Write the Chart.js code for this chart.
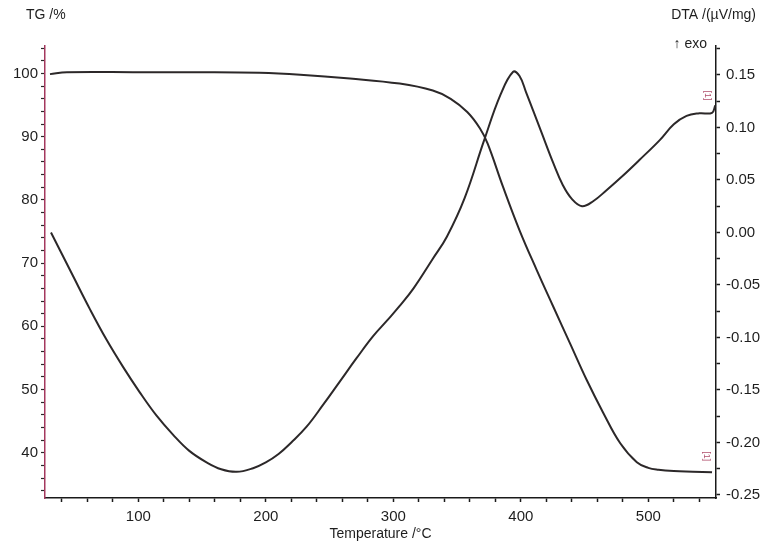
<!DOCTYPE html>
<html>
<head>
<meta charset="utf-8">
<title>TG / DTA</title>
<script src="https://cdn.jsdelivr.net/npm/chart.js@4/dist/chart.umd.min.js"></script>
<style>
    body { margin: 0; background: #ffffff; }
    #chart_area { width: 765px; height: 553px; }
</style>
</head>
<body>
<div id="chart_area"><canvas id="tg_dta" width="765" height="553"></canvas></div>
<script>
// Thermogravimetric curve: temperature (°C) and remaining mass (%)
const tgTemperature = [30.7, 44, 100, 150, 195, 227, 266, 305, 331, 345, 358, 368, 374,
    386, 399, 412.5, 425.5, 438.6, 451.7, 464.7, 478, 491, 500, 508, 520, 535, 550];
const tgValues = [99.9, 100.2, 100.2, 100.2, 100.1, 99.8, 99.2, 98.4, 97.3, 96.0, 93.9, 91.3, 88.9,
    82.1, 75.2, 68.9, 63.1, 57.3, 51.5, 46.3, 41.5, 38.5, 37.6, 37.3, 37.1, 37.0, 36.9];

// Differential thermal analysis curve: temperature (°C) and signal (µV/mg)
const dtaTemperature = [31.5, 49, 62, 75, 88, 101, 114, 127.5, 140, 153.6, 165, 177, 190, 200,
    210, 220, 232, 245, 258, 271, 284, 295, 305, 316, 331, 342, 356, 371, 384, 394, 399, 404,
    410, 416, 425.5, 433, 440, 448, 457, 467, 480, 493, 509, 520, 530, 540, 550, 552.5];
const dtaValues = [0.000, -0.042, -0.073, -0.102, -0.128, -0.152, -0.174, -0.193, -0.208, -0.219,
    -0.2255, -0.228, -0.2245, -0.219, -0.211, -0.200, -0.185, -0.164, -0.142, -0.120, -0.099,
    -0.084, -0.070, -0.053, -0.025, -0.004, 0.033, 0.087, 0.131, 0.153, 0.149, 0.134, 0.115,
    0.096, 0.066, 0.045, 0.032, 0.025, 0.030, 0.040, 0.054, 0.069, 0.088, 0.103, 0.111,
    0.1135, 0.114, 0.121];

// Labelled ticks on each axis
const temperatureTicks = [100, 200, 300, 400, 500];
const tgTicks = [40, 50, 60, 70, 80, 90, 100];
const dtaTicks = [-0.25, -0.20, -0.15, -0.10, -0.05, 0.00, 0.05, 0.10, 0.15];

const textColor = "#1e1e1e";
const curveColor = "#2c2829";
const tickFont = { family: "'Liberation Sans', Arial, sans-serif", size: 15 };
const titleFont = { family: "'Liberation Sans', Arial, sans-serif", size: 14 };

/**
 * Turns two parallel arrays into {x, y} points.
 */
function to_points(xs, ys) {
    return xs.map(function (x, i) {
        return { x: x, y: ys[i] };
    });
}

/**
 * Replaces the generated ticks with evenly spaced minor positions.
 */
function minor_ticks(start, stop, step) {
    return function (scale) {
        const list = [];
        const count = Math.round((stop - start) / step);
        for (let i = 0; i <= count; i++) {
            list.push({ value: +(start + i * step).toFixed(4) });
        }
        scale.ticks = list;
    };
}

function is_major(value, majors) {
    return majors.some(function (m) { return Math.abs(m - value) < 1e-6; });
}

// Axis captions and the small run markers at the curve ends
const captionPlugin = {
    id: "captions",
    afterDraw: function (chart) {
        const ctx = chart.ctx;
        const x = chart.scales.x;
        const yTG = chart.scales.yTG;
        const yDTA = chart.scales.yDTA;

        ctx.save();
        ctx.fillStyle = textColor;
        ctx.font = titleFont.size + "px " + titleFont.family;
        ctx.textBaseline = "middle";
        ctx.textAlign = "left";
        ctx.fillText("TG /%", 26, 15);
        ctx.textAlign = "right";
        ctx.fillText("DTA /(\u00b5V/mg)", 756, 15);
        ctx.fillText("\u2191 exo", 707, 44);

        // "[1]" markers next to the last point of each curve
        ctx.fillStyle = "#b0506c";
        ctx.font = "9px 'Liberation Sans', Arial, sans-serif";
        const lastDta = dtaTemperature.length - 1;
        const lastTg = tgTemperature.length - 1;
        const marks = [
            [x.getPixelForValue(dtaTemperature[lastDta]) - 8, yDTA.getPixelForValue(dtaValues[lastDta]) - 10],
            [x.getPixelForValue(tgTemperature[lastTg]) - 6, yTG.getPixelForValue(tgValues[lastTg]) - 16]
        ];
        marks.forEach(function (m) {
            ctx.save();
            ctx.translate(m[0], m[1]);
            ctx.rotate(Math.PI / 2);
            ctx.textAlign = "center";
            ctx.fillText("[1]", 0, 0);
            ctx.restore();
        });
        ctx.restore();
    }
};

function create_chart(canvasId) {
    return new Chart(canvasId, {
        type: "line",
        data: {
            datasets: [
                {
                    label: "TG",
                    data: to_points(tgTemperature, tgValues),
                    yAxisID: "yTG",
                    borderColor: curveColor,
                    borderWidth: 2,
                    pointRadius: 0,
                    tension: 0.4,
                    fill: false
                },
                {
                    label: "DTA",
                    data: to_points(dtaTemperature, dtaValues),
                    yAxisID: "yDTA",
                    borderColor: curveColor,
                    borderWidth: 2,
                    pointRadius: 0,
                    tension: 0.4,
                    fill: false
                }
            ]
        },
        options: {
            responsive: false,
            animation: false,
            layout: { padding: { top: 46, left: 0, right: 0, bottom: 0 } },
            plugins: {
                legend: { display: false },
                tooltip: { enabled: false }
            },
            scales: {
                x: {
                    type: "linear",
                    position: "bottom",
                    min: 26.8,
                    max: 553.1,
                    afterBuildTicks: minor_ticks(40, 540, 20),
                    afterFit: function (scale) { scale.height = 55; },
                    border: { display: true, color: "#1a1a1a", width: 1.5 },
                    grid: { drawOnChartArea: false, drawTicks: true, tickLength: 4, tickColor: "#1a1a1a", tickWidth: 1.5 },
                    ticks: {
                        autoSkip: false,
                        maxRotation: 0,
                        padding: 6,
                        color: textColor,
                        font: tickFont,
                        callback: function (value) {
                            return is_major(value, temperatureTicks) ? String(value) : "";
                        }
                    },
                    title: {
                        display: true,
                        text: "Temperature /\u00b0C",
                        color: textColor,
                        font: titleFont,
                        padding: { top: 0, bottom: 10 }
                    }
                },
                yTG: {
                    type: "linear",
                    position: "left",
                    min: 32.84,
                    max: 104.35,
                    afterBuildTicks: minor_ticks(34, 104, 2),
                    afterFit: function (scale) { scale.width = 45; },
                    border: { display: true, color: "#a4385e", width: 1.5 },
                    grid: { drawOnChartArea: false, drawTicks: true, tickLength: 4, tickColor: "#2a2a2a", tickWidth: 1.2 },
                    ticks: {
                        autoSkip: false,
                        padding: 3,
                        color: textColor,
                        font: tickFont,
                        callback: function (value) {
                            return is_major(value, tgTicks) ? String(value) : "";
                        }
                    }
                },
                yDTA: {
                    type: "linear",
                    position: "right",
                    min: -0.2529,
                    max: 0.1776,
                    afterBuildTicks: minor_ticks(-0.25, 0.175, 0.025),
                    afterFit: function (scale) { scale.width = 49; },
                    border: { display: true, color: "#1a1a1a", width: 1.5 },
                    grid: { drawOnChartArea: false, drawTicks: true, tickLength: 4, tickColor: "#1a1a1a", tickWidth: 1.5 },
                    ticks: {
                        autoSkip: false,
                        padding: 6,
                        color: textColor,
                        font: tickFont,
                        callback: function (value) {
                            return is_major(value, dtaTicks) ? value.toFixed(2) : "";
                        }
                    }
                }
            }
        },
        plugins: [captionPlugin]
    });
}

create_chart("tg_dta");
</script>
</body>
</html>
